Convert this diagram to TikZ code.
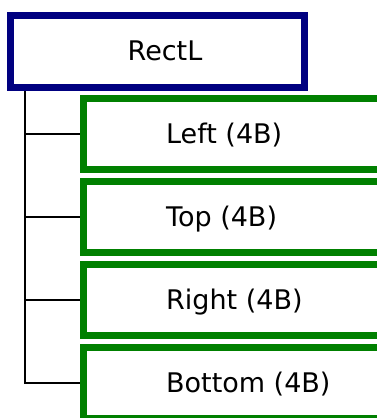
\documentclass[tikz,border=0pt]{standalone}
\usepackage{fontspec}
\setmainfont{DejaVu Sans}
\definecolor{navy}{RGB}{0,0,128}
\definecolor{leafgreen}{RGB}{0,128,0}
\newcommand{\fieldtext}[1]{\makebox[131pt][l]{#1}}
\tikzset{
  rootbox/.style={draw=navy,line width=7pt,minimum width=293.5pt,minimum height=72pt,inner sep=0pt},
  fieldbox/.style={draw=leafgreen,line width=7pt,minimum width=296.7pt,minimum height=71.5pt,inner sep=0pt,anchor=west},
  branch/.style={line width=1.3pt,black},
  lbl/.style={font=\fontsize{27}{32}\selectfont,text height=19.5pt,text depth=0pt}
}

\begin{document}
\begin{tikzpicture}[x=1pt,y=-1pt]
  \useasboundingbox (0,0) rectangle (377,418);
  \clip (0,0) rectangle (377,418);
  % struct and its four members, one row every 83pt
  \node[rootbox,lbl] (rectl) at (157.25,51) {\hspace*{15.5pt}RectL};
  \foreach \nm/\txt [count=\i from 0] in {fLeft/Left (4B),fTop/Top (4B),fRight/Right (4B),fBottom/Bottom (4B)}
    \node[fieldbox,lbl] (\nm) at (79.8,134+83*\i) {\fieldtext{\txt}};
  % tree lines
  \coordinate (trunk) at (25,0 |- rectl.south);
  \draw[branch] (trunk) |- (fBottom.west);
  \foreach \nm in {fLeft,fTop,fRight}
    \draw[branch] (trunk |- \nm.west) -- (\nm.west);
\end{tikzpicture}
\end{document}
